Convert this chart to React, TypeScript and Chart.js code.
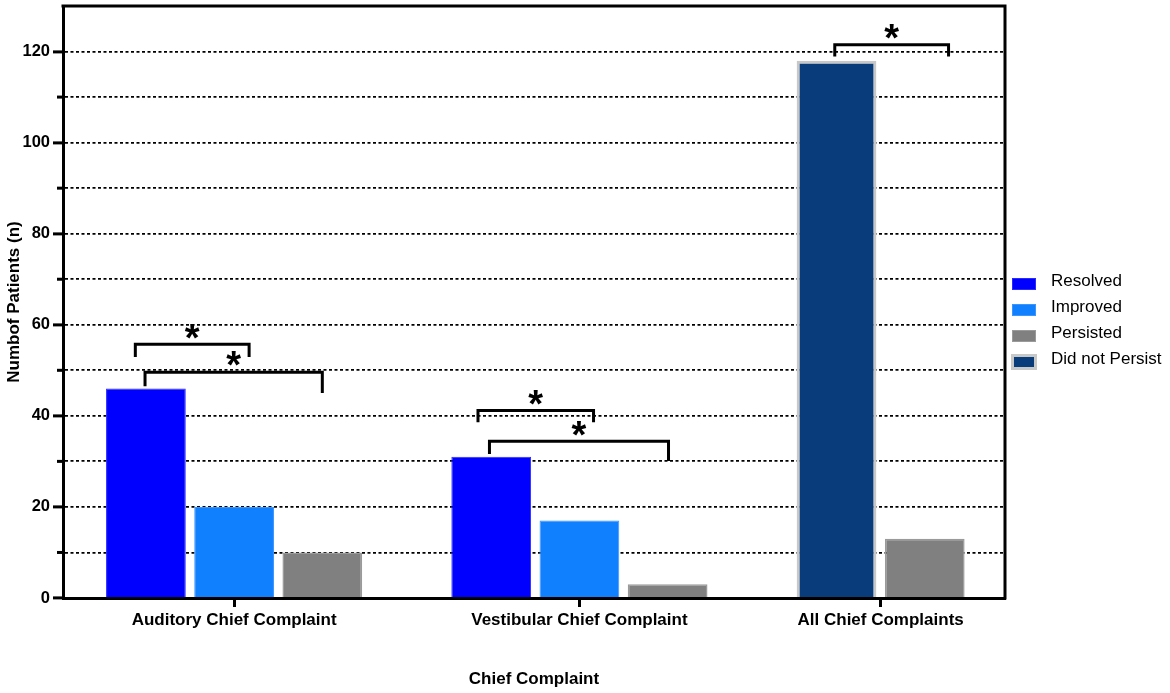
import React, { useEffect, useRef } from "react";
import { Chart, registerables } from "chart.js";

Chart.register(...registerables);

// ---------- data ----------
const categories = ["Auditory Chief Complaint", "Vestibular Chief Complaint", "All Chief Complaints"];
const seriesNames = ["Resolved", "Improved", "Persisted", "Did not Persist"];
const resolved: (number | null)[] = [46, 31, null];
const improved: (number | null)[] = [20, 17, null];
const persisted: (number | null)[] = [10, 3, 13];
const didNotPersist: (number | null)[] = [null, null, 118];
const yTickLabels = [0, 20, 40, 60, 80, 100, 120];
const yMax = 130;

// significance brackets: group, slot from/to, top value, leg end values
const brackets = [
  { group: 0, from: 0, to: 1, top: 55.7, leftEnd: 52.9, rightEnd: 52.9, nudgeL: -0.12, nudgeR: 0.17 },
  { group: 0, from: 0, to: 2, top: 49.6, leftEnd: 46.5, rightEnd: 45.0, nudgeL: -0.01, nudgeR: 0.0 },
  { group: 1, from: 0, to: 1, top: 41.2, leftEnd: 38.6, rightEnd: 38.6, nudgeL: -0.15, nudgeR: 0.16 },
  { group: 1, from: 0, to: 2, top: 34.4, leftEnd: 31.6, rightEnd: 30.1, nudgeL: -0.02, nudgeR: 0.01 },
  { group: 2, from: 0, to: 1, top: 121.5, leftEnd: 118.9, rightEnd: 118.9, nudgeL: -0.02, nudgeR: 0.27 },
];

// ---------- styles / layout ----------
const colors = ["#0000ff", "#1080ff", "#808080", "#083c7a"];
const borderColors = ["#2a2aff", "#3a95ff", "#9a9a9a", "#c8c8c8"];
const borderWidths = [1, 1, 1.5, 3];
const slotRank = [0, 1, 3, 2]; // order of series within a group
const EDGE_L = 0.44;
const EDGE_R = 0.41;
const GROUP_GAP = 0.915;
const BAR_FRAC = 0.904;
const FONT = "Arial, 'Liberation Sans', Helvetica, sans-serif";

const seriesData = [resolved, improved, persisted, didNotPersist];

// compute slot positions
const groupCenters: number[] = [];
const slotX: number[][] = [];
const barX: (number | null)[][] = seriesData.map(() => categories.map(() => null));
let cursor = EDGE_L;
categories.forEach((_, g) => {
  const present = seriesData
    .map((_s, i) => i)
    .filter((i) => seriesData[i][g] !== null)
    .sort((a, b) => slotRank[a] - slotRank[b]);
  const xs = present.map((_p, k) => cursor + k + 0.5);
  present.forEach((si, k) => {
    barX[si][g] = xs[k];
  });
  slotX.push(xs);
  groupCenters.push(cursor + present.length / 2);
  cursor += present.length + GROUP_GAP;
});
const xMax = cursor - GROUP_GAP + EDGE_R;

const extrasPlugin = {
  id: "extras",
  afterDatasetsDraw(chart: any) {
    const { ctx, scales } = chart;
    const xs = scales.x;
    const ys = scales.y;
    ctx.save();
    ctx.strokeStyle = "#000";
    ctx.fillStyle = "#000";
    ctx.lineWidth = 3;
    ctx.lineJoin = "miter";
    ctx.lineCap = "butt";
    brackets.forEach((b) => {
      const x1 = xs.getPixelForValue(slotX[b.group][b.from] + b.nudgeL);
      const x2 = xs.getPixelForValue(slotX[b.group][b.to] + b.nudgeR);
      const yt = ys.getPixelForValue(b.top);
      const yl = ys.getPixelForValue(b.leftEnd);
      const yr = ys.getPixelForValue(b.rightEnd);
      ctx.beginPath();
      ctx.moveTo(x1, yl);
      ctx.lineTo(x1, yt);
      ctx.lineTo(x2, yt);
      ctx.lineTo(x2, yr);
      ctx.stroke();
      const size = 38;
      ctx.font = `bold ${size}px ${FONT}`;
      ctx.textAlign = "center";
      ctx.textBaseline = "alphabetic";
      ctx.fillText("*", (x1 + x2) / 2, yt - 15 + size * 0.56);
    });
    ctx.restore();
  },
  afterDraw(chart: any) {
    const { ctx, chartArea, scales } = chart;
    const ys = scales.y;
    ctx.save();
    // top & right frame
    ctx.strokeStyle = "#000";
    ctx.lineWidth = 3;
    ctx.beginPath();
    ctx.moveTo(chartArea.left - 1.5, chartArea.top);
    ctx.lineTo(chartArea.right, chartArea.top);
    ctx.lineTo(chartArea.right, chartArea.bottom + 1.5);
    ctx.stroke();
    // minor ticks
    for (let v = 10; v < yMax; v += 20) {
      const y = ys.getPixelForValue(v);
      ctx.beginPath();
      ctx.moveTo(chartArea.left - 6, y);
      ctx.lineTo(chartArea.left, y);
      ctx.stroke();
    }
    // legend
    const lx = chartArea.right + 7;
    const startY = 284;
    const step = 26;
    chart.data.datasets.forEach((ds: any, i: number) => {
      const cy = startY + i * step;
      const bw = 24;
      const bh = 12;
      if (ds.borderWidth > 2) {
        ctx.fillStyle = ds.borderColor;
        ctx.fillRect(lx - 1, cy - bh / 2 - 2, bw + 2, bh + 4);
        ctx.fillStyle = ds.backgroundColor;
        ctx.fillRect(lx + 2, cy - bh / 2 + 1, bw - 4, bh - 2);
      } else {
        ctx.fillStyle = ds.backgroundColor;
        ctx.fillRect(lx, cy - bh / 2, bw, bh);
        ctx.strokeStyle = ds.borderColor;
        ctx.lineWidth = 1;
        ctx.strokeRect(lx + 0.5, cy - bh / 2 + 0.5, bw - 1, bh - 1);
      }
      ctx.fillStyle = "#000";
      ctx.font = `17px ${FONT}`;
      ctx.textAlign = "left";
      ctx.textBaseline = "middle";
      ctx.fillText(ds.label, lx + 39, cy - 3);
    });
    ctx.restore();
  },
};

export default function App() {
  const canvasRef = useRef<HTMLCanvasElement | null>(null);

  useEffect(() => {
    const canvas = canvasRef.current;
    if (!canvas) return;
    const datasets = seriesNames.map((name, si) => ({
      label: name,
      data: categories
        .map((_c, g) => (seriesData[si][g] === null ? null : { x: barX[si][g] as number, y: seriesData[si][g] as number }))
        .filter((p) => p !== null),
      backgroundColor: colors[si],
      borderColor: borderColors[si],
      borderWidth: borderWidths[si],
      grouped: false,
      categoryPercentage: 1,
      barPercentage: BAR_FRAC,
    }));

    const chart = new Chart(canvas, {
      type: "bar",
      data: { datasets } as any,
      plugins: [extrasPlugin],
      options: {
        animation: false,
        responsive: false,
        layout: { padding: { left: 0, top: 6, right: 165, bottom: 0 } },
        plugins: { legend: { display: false }, tooltip: { enabled: false } },
        scales: {
          x: {
            type: "linear",
            min: 0,
            max: xMax,
            offset: false,
            grid: {
              offset: false,
              drawOnChartArea: false,
              drawTicks: true,
              tickLength: 9,
              tickWidth: 3,
              tickColor: "#000",
            },
            border: { display: true, color: "#000", width: 3 },
            afterBuildTicks: (s: any) => {
              s.ticks = groupCenters.map((v) => ({ value: v }));
            },
            afterFit: (s: any) => {
              s.height = 95;
              s.paddingLeft = 0;
              s.paddingRight = 0;
            },
            ticks: {
              autoSkip: false,
              maxRotation: 0,
              minRotation: 0,
              padding: 3,
              color: "#000",
              font: { family: FONT, size: 17, weight: "bold" },
              callback: (_v: any, i: number) => categories[i],
            },
            title: {
              display: true,
              text: "Chief Complaint",
              color: "#000",
              font: { family: FONT, size: 17, weight: "bold" },
              padding: { top: 0, bottom: 3 },
            },
          },
          y: {
            type: "linear",
            min: 0,
            max: yMax,
            afterBuildTicks: (s: any) => {
              s.ticks = s.ticks.filter((t: any) => t.value <= 120);
            },
            afterFit: (s: any) => {
              s.width = 63;
              s.paddingTop = 0;
              s.paddingBottom = 0;
            },
            ticks: {
              stepSize: 10,
              padding: 3,
              color: "#000",
              font: { family: FONT, size: 16.5, weight: "bold" },
              callback: (v: any) => (yTickLabels.includes(Number(v)) ? String(v) : ""),
            },
            grid: {
              color: (c: any) => (c.tick && c.tick.value === 0 ? "rgba(0,0,0,0)" : "#000"),
              lineWidth: 1.8,
              drawTicks: true,
              tickLength: 10,
              tickWidth: 3,
              tickColor: (c: any) =>
                c.tick && yTickLabels.includes(c.tick.value) ? "#000" : "rgba(0,0,0,0)",
            },
            border: { display: true, color: "#000", width: 3, dash: [3, 2.5] },
            title: {
              display: true,
              text: "Numbof Patients (n)",
              color: "#000",
              font: { family: FONT, size: 17, weight: "bold" },
              padding: { top: 4, bottom: 0 },
            },
          },
        },
      } as any,
    });
    return () => chart.destroy();
  }, []);

  return (
    <div style={{ position: "fixed", left: 0, top: 0, width: 1170, height: 693, background: "#fff" }}>
      <canvas ref={canvasRef} width={1170} height={693} style={{ display: "block" }} />
    </div>
  );
}
